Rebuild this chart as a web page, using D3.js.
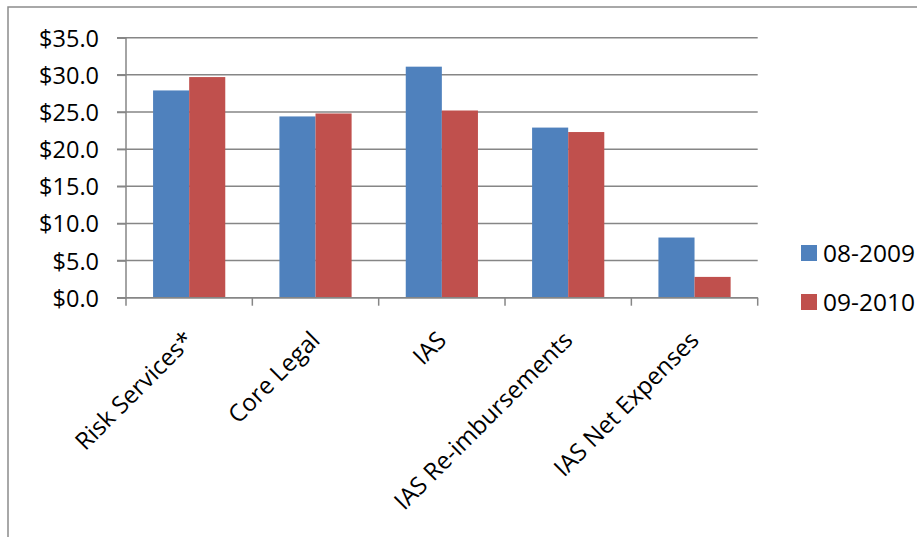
<!DOCTYPE html>
<html>
<head>
<meta charset="utf-8">
<script src="https://cdn.jsdelivr.net/npm/d3@7"></script>
<style>
  body { margin: 0; background: #fff; }
  svg text { font-family: "Open Sans", "Noto Sans", sans-serif; fill: #000; }
</style>
</head>
<body>
<div id="chart"></div>
<script>
const WIDTH = 917;
const HEIGHT = 537;

// data ($ millions)
const categories = ["Risk Services*", "Core Legal", "IAS", "IAS Re-imbursements", "IAS Net Expenses"];
const seriesNames = ["08-2009", "09-2010"];
const values0809 = [27.9, 24.4, 31.1, 22.9, 8.1];
const values0910 = [29.7, 24.8, 25.2, 22.3, 2.8];
const yTicks = [0, 5, 10, 15, 20, 25, 30, 35];
const colors = ["#4F81BD", "#C0504D"];

let margin = {top: 37.7, left: 126, right: WIDTH - 757.7, bottom: HEIGHT - 297.7};
let width = WIDTH - margin.left - margin.right;
let height = HEIGHT - margin.top - margin.bottom;

let svg = d3.select("#chart").append("svg")
    .attr("width", WIDTH)
    .attr("height", HEIGHT);

// outer chart border (runs off right and bottom)
svg.append("rect")
    .attr("x", 8).attr("y", 7)
    .attr("width", WIDTH + 10).attr("height", HEIGHT + 10)
    .attr("fill", "none")
    .attr("stroke", "#8c8c8c")
    .attr("stroke-width", 1.5);

let g = svg.append("g")
    .attr("transform", "translate(" + margin.left + "," + margin.top + ")");

let xScale = d3.scaleBand().domain(categories).range([0, width]);
// excel style gap width 75% -> outer padding 0.75 of a bar
let xInner = d3.scaleBand().domain(seriesNames).range([0, xScale.bandwidth()]).paddingOuter(0.75).paddingInner(0);
let yScale = d3.scaleLinear().domain([0, 35]).range([height, 0]);

// horizontal grid lines
g.append("g").classed("gridlines", true)
  .selectAll("line").data(yTicks).enter()
  .append("line")
    .attr("x1", -9)
    .attr("x2", width)
    .attr("y1", d => yScale(d))
    .attr("y2", d => yScale(d))
    .attr("stroke", "#868686")
    .attr("stroke-width", 1.5);

// bars
let series = [values0809, values0910];
series.forEach(function(vals, si) {
  g.append("g").selectAll("rect").data(vals).enter()
    .append("rect")
      .attr("x", (d, i) => xScale(categories[i]) + xInner(seriesNames[si]))
      .attr("y", d => yScale(d))
      .attr("width", xInner.bandwidth())
      .attr("height", d => height - yScale(d))
      .attr("fill", colors[si]);
});

// y axis
let yAxis = d3.axisLeft(yScale).tickValues(yTicks).tickSize(9).tickPadding(18)
    .tickFormat(d => "$" + d3.format(".1f")(d));
let yG = g.append("g").call(yAxis);
yG.select(".domain").attr("stroke", "#868686").attr("stroke-width", 1.5).attr("d", "M0," + height + "V0");
yG.selectAll(".tick line").attr("stroke", "#868686").attr("stroke-width", 1.5);
yG.selectAll(".tick text").style("font-size", "23.5px").attr("dy", "0.36em");

// x axis
let xG = g.append("g").attr("transform", "translate(0," + height + ")");
xG.append("line").attr("x1", 0).attr("x2", width)
    .attr("stroke", "#868686").attr("stroke-width", 1.5);
xG.selectAll("line.tick").data(d3.range(categories.length + 1)).enter()
  .append("line").classed("tick", true)
    .attr("x1", d => d * xScale.step())
    .attr("x2", d => d * xScale.step())
    .attr("y1", 0).attr("y2", 8)
    .attr("stroke", "#868686").attr("stroke-width", 1.5);
xG.selectAll("text").data(categories).enter()
  .append("text")
    .attr("transform", d => "translate(" + (xScale(d) + xScale.bandwidth() / 2 - 6) + ",32) rotate(-45)")
    .attr("text-anchor", "end")
    .attr("dy", "0.7em")
    .style("font-size", "24px")
    .text(d => d);

// legend
let legend = svg.append("g").attr("transform", "translate(801,245)");
seriesNames.forEach(function(name, i) {
  let row = legend.append("g").attr("transform", "translate(0," + (i * 49) + ")");
  row.append("rect").attr("width", 16).attr("height", 16).attr("fill", colors[i]);
  row.append("text").attr("x", 22).attr("y", 8).attr("dy", "0.36em")
    .style("font-size", "24.5px").text(name);
});
</script>
</body>
</html>
